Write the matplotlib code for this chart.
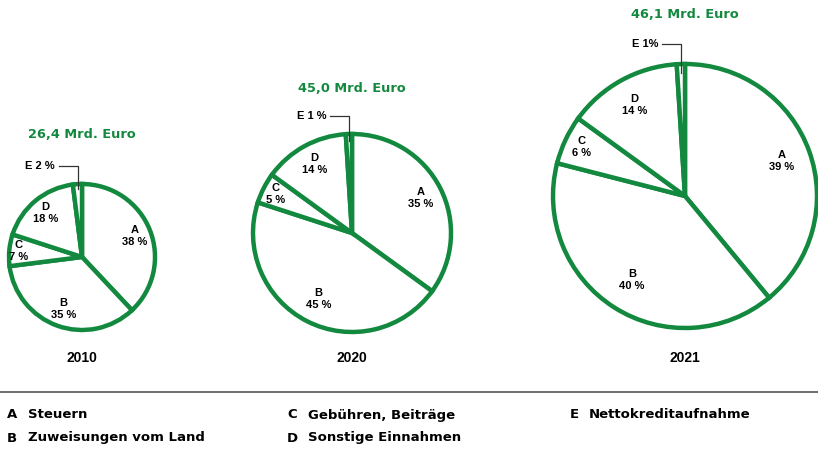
import numpy as np
import matplotlib
matplotlib.use("Agg")
from matplotlib import pyplot as plt

plt.rcParams['font.family'] = ['Liberation Sans', 'DejaVu Sans']

# data
years = ['2010', '2020', '2021']
totals = ['26,4 Mrd. Euro', '45,0 Mrd. Euro', '46,1 Mrd. Euro']
cats = ['A', 'B', 'C', 'D', 'E']
shares_2010 = [38, 35, 7, 18, 2]
shares_2020 = [35, 45, 5, 14, 1]
shares_2021 = [39, 40, 6, 14, 1]
e_labels = ['E 2 %', 'E 1 %', 'E 1%']
legend_left = [('A', 'Steuern'), ('B', 'Zuweisungen vom Land')]
legend_mid = [('C', 'Gebühren, Beiträge'), ('D', 'Sonstige Einnahmen')]
legend_right = [('E', 'Nettokreditaufnahme')]

# layout (pixels, y from top)
W, H = 818, 449
centers = [(82, 257), (352, 233), (685, 196)]
radii = [73, 99, 132]
title_y = [135, 88, 15]
lead_up = [18, 18, 20]
lab_dist = {'A': 0.78, 'B': 0.75, 'C': 0.87, 'D': 0.79}
green = '#12893e'

fig = plt.figure(figsize=(W / 100, H / 100), dpi=100)
ax = fig.add_axes([0, 0, 1, 1])

for shares, year, total, elab, (cx, cy), r, ty, up in zip(
        [shares_2010, shares_2020, shares_2021], years, totals, e_labels,
        centers, radii, title_y, lead_up):
    Y = H - cy
    wedges, _ = ax.pie(shares, startangle=90, counterclock=False,
                       center=(cx, Y), radius=r, frame=True,
                       wedgeprops=dict(facecolor='white', edgecolor=green,
                                       linewidth=3.2, joinstyle='miter'))
    for w, c, s in zip(wedges, cats, shares):
        mid = np.deg2rad((w.theta1 + w.theta2) / 2)
        if c == 'E':
            ex = cx + 0.93 * r * np.cos(mid)
            ey = Y + 0.93 * r * np.sin(mid)
            top = Y + r + up
            ax.plot([ex, ex, ex - 19], [ey, top, top], color='#333333', lw=0.9)
            ax.text(ex - 23, top, elab, ha='right', va='center',
                    fontsize=8, fontweight='bold')
            continue
        d = lab_dist[c] * r
        ax.text(cx + d * np.cos(mid), Y + d * np.sin(mid), f'{c}\n{s} %',
                ha='center', va='center', fontsize=8, fontweight='bold',
                linespacing=1.25)
    ax.text(cx, H - ty, total, ha='center', va='center', color=green,
            fontsize=9.3, fontweight='bold', family='DejaVu Sans')
    ax.text(cx, H - 358, year, ha='center', va='center', fontsize=10,
            fontweight='bold')

ax.plot([0, W], [H - 392, H - 392], color='#555555', lw=1.2)

for items, xl, xd in [(legend_left, 7, 28), (legend_mid, 287, 308),
                      (legend_right, 570, 589)]:
    for i, (k, txt) in enumerate(items):
        yy = H - (415 + 23 * i)
        ax.text(xl, yy, k, ha='left', va='center', fontsize=9.5,
                fontweight='bold', family='DejaVu Sans')
        ax.text(xd, yy, txt, ha='left', va='center', fontsize=9.5,
                fontweight='bold', family='DejaVu Sans')

ax.set_xlim(0, W)
ax.set_ylim(0, H)
ax.set_aspect('auto')
ax.axis('off')

fig.savefig('out.png', dpi=100)
